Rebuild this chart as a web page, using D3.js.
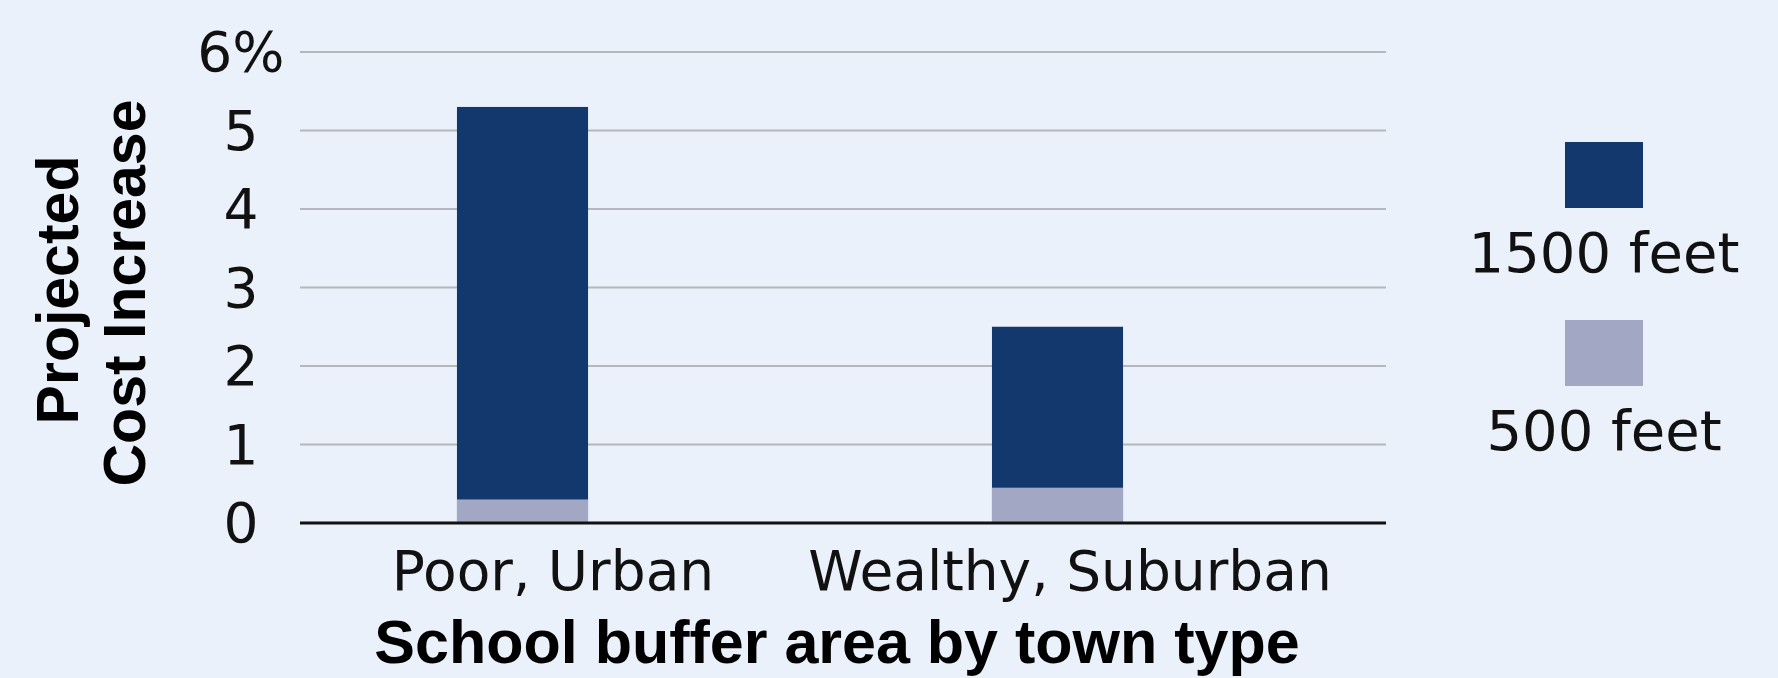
<!DOCTYPE html>
<html>
<head>
<meta charset="utf-8">
<script src="https://cdn.jsdelivr.net/npm/d3@7"></script>
<style>
  html, body { margin: 0; padding: 0; background: #EBF1FA; }
  svg { display: block; }
</style>
</head>
<body>
<svg id="chart" width="1778" height="678"></svg>
<script>
const categories = ["Poor, Urban", "Wealthy, Suburban"];
const seriesNames = ["1500 feet", "500 feet"];
const values1500 = [5.3, 2.5];
const values500 = [0.3, 0.45];
const yTicks = [0, 1, 2, 3, 4, 5, 6];
const yTickLabels = ["0", "1", "2", "3", "4", "5", "6%"];
const colors = ["#12386E", "#A2A8C4"];

const svg = d3.select("#chart");
const W = 1778, H = 678;
svg.append("rect").attr("width", W).attr("height", H).attr("fill", "#EBF1FA");

const gridLeft = 300, gridRight = 1386;
const y = d3.scaleLinear().domain([0, 6]).range([523, 52]);
const x = d3.scaleBand().domain(categories).range([255, 1325])
  .paddingInner(0.755).paddingOuter(0.3775);
const xLabel = d3.scalePoint().domain(categories).range([553, 1070]);

const normalFont = "'DejaVu Sans', sans-serif";
const boldFont = "'Liberation Sans', Arial, sans-serif";

// gridlines
svg.append("g").selectAll("line").data(yTicks.filter(d => d > 0)).join("line")
  .attr("x1", gridLeft).attr("x2", gridRight)
  .attr("y1", d => y(d)).attr("y2", d => y(d))
  .attr("stroke", "#B4B7BB").attr("stroke-width", 2);

// y tick labels
svg.append("g").selectAll("text").data(yTicks).join("text")
  .attr("x", 241).attr("y", d => y(d) + 19)
  .attr("text-anchor", "middle")
  .attr("font-family", normalFont).attr("font-size", 55).attr("fill", "#111")
  .text((d, i) => yTickLabels[i]);

// bars: 1500 ft behind, 500 ft in front
const bars = svg.append("g");
bars.selectAll("rect.b1500").data(categories).join("rect").attr("class", "b1500")
  .attr("x", d => x(d)).attr("width", x.bandwidth())
  .attr("y", (d, i) => y(values1500[i]))
  .attr("height", (d, i) => y(0) - y(values1500[i]))
  .attr("fill", colors[0]);
bars.selectAll("rect.b500").data(categories).join("rect").attr("class", "b500")
  .attr("x", d => x(d)).attr("width", x.bandwidth())
  .attr("y", (d, i) => y(values500[i]))
  .attr("height", (d, i) => y(0) - y(values500[i]))
  .attr("fill", colors[1]);

// baseline
svg.append("line").attr("x1", gridLeft).attr("x2", gridRight)
  .attr("y1", y(0)).attr("y2", y(0))
  .attr("stroke", "#111").attr("stroke-width", 3);

// x labels
svg.append("g").selectAll("text").data(categories).join("text")
  .attr("x", d => xLabel(d)).attr("y", 590)
  .attr("text-anchor", "middle")
  .attr("font-family", normalFont).attr("font-size", 55).attr("fill", "#111")
  .text(d => d);

// x title
svg.append("text").attr("x", 837).attr("y", 663)
  .attr("text-anchor", "middle")
  .attr("font-family", boldFont).attr("font-weight", "bold")
  .attr("font-size", 61).attr("fill", "#000")
  .text("School buffer area by town type");

// y title
const yt = [["Projected", 78, 290], ["Cost Increase", 145, 293]];
svg.append("g").selectAll("text").data(yt).join("text")
  .attr("transform", d => `translate(${d[1]},${d[2]}) rotate(-90)`)
  .attr("text-anchor", "middle")
  .attr("font-family", boldFont).attr("font-weight", "bold")
  .attr("font-size", 59).attr("fill", "#000")
  .text(d => d[0]);

// legend
const legY = d3.scalePoint().domain(seriesNames).range([142, 320]);
const leg = svg.append("g").selectAll("g").data(seriesNames).join("g")
  .attr("transform", d => `translate(1604,${legY(d)})`);
leg.append("rect").attr("x", -39).attr("y", 0).attr("width", 78).attr("height", 66)
  .attr("fill", (d, i) => colors[i]);
leg.append("text").attr("x", 0).attr("y", 130)
  .attr("text-anchor", "middle")
  .attr("font-family", normalFont).attr("font-size", 56).attr("fill", "#111")
  .text(d => d);
</script>
</body>
</html>
